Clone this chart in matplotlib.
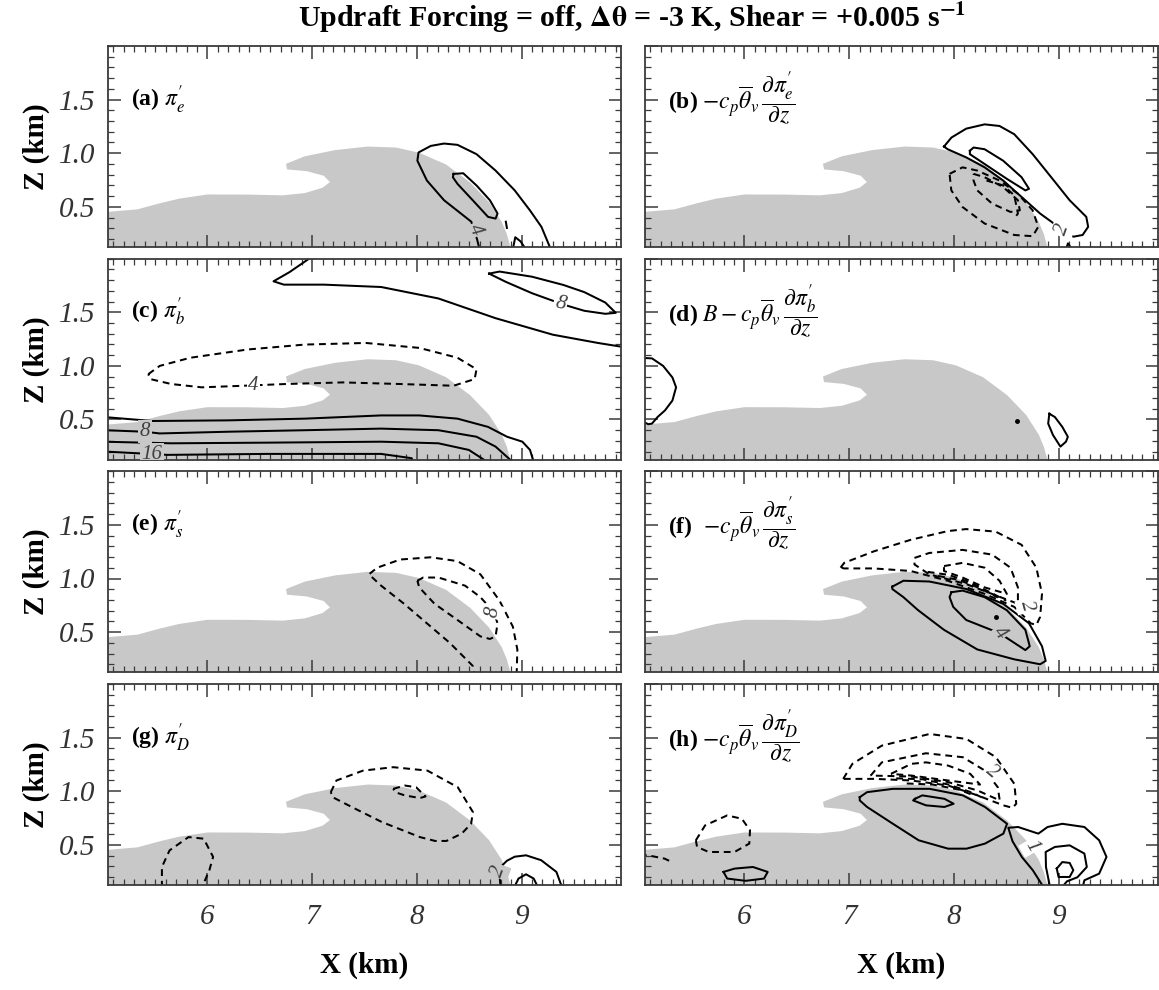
import matplotlib
matplotlib.use("Agg")
import matplotlib.pyplot as plt
from matplotlib.path import Path
from matplotlib.ticker import MultipleLocator

plt.rcParams['font.family'] = ['Liberation Serif', 'DejaVu Serif']
plt.rcParams['mathtext.fontset'] = 'stix'

XLIM = (5.05, 9.95)
ZLIM = (0.125, 2.0)

# cold pool outline, x and z in km
pool_x = [5.0, 5.0, 5.33, 5.55, 5.73, 6.0, 6.38, 6.72, 6.93, 7.10, 7.17, 7.11, 6.95, 6.76,
          6.75, 6.93, 7.22, 7.53, 7.80, 8.02, 8.28, 8.51, 8.69, 8.81, 8.86, 8.90]
pool_z = [0.10, 0.449, 0.476, 0.534, 0.576, 0.615, 0.614, 0.607, 0.628, 0.678, 0.731, 0.790, 0.832,
          0.849, 0.901, 0.971, 1.029, 1.062, 1.053, 1.005, 0.894, 0.726, 0.543, 0.361, 0.245, 0.10]

# (a) pi'_e
a_solid = [
    [(8.60, 0.10), (8.575, 0.197), (8.52, 0.361), (8.26, 0.561), (8.096, 0.745), (8.005, 0.930),
     (8.016, 1.007), (8.133, 1.068), (8.26, 1.090), (8.388, 1.078), (8.57, 0.991), (8.752, 0.838),
     (8.935, 0.653), (9.08, 0.467), (9.19, 0.313), (9.281, 0.10)],
    [(8.351, 0.807), (8.443, 0.813), (8.57, 0.699), (8.698, 0.561), (8.771, 0.437), (8.752, 0.390),
     (8.68, 0.406), (8.534, 0.561), (8.388, 0.714), (8.344, 0.776), (8.351, 0.807)],
    [(8.85, 0.361), (8.86, 0.303)],
    [(8.916, 0.10), (8.94, 0.216), (8.99, 0.178), (9.044, 0.10)],
]
a_dashed = []
a_labels = [(8.555, 0.284, "4", -65)]

# (b) vertical gradient of pi'_e
b_solid = [
    [(7.906, 1.062), (7.977, 1.146), (8.118, 1.229), (8.294, 1.269), (8.436, 1.254), (8.577, 1.177),
     (8.753, 0.991), (8.93, 0.776), (9.106, 0.561), (9.265, 0.406), (9.283, 0.313), (9.23, 0.237),
     (9.142, 0.221), (9.04, 0.284), (8.824, 0.437), (8.647, 0.592), (8.471, 0.745), (8.294, 0.868),
     (8.118, 0.961), (7.941, 1.037), (7.906, 1.062)],
    [(8.153, 1.022), (8.188, 1.053), (8.294, 1.037), (8.471, 0.930), (8.647, 0.776), (8.718, 0.668),
     (8.683, 0.653), (8.506, 0.761), (8.294, 0.899), (8.153, 0.991), (8.153, 1.022)],
    [(9.07, 0.10), (9.09, 0.159), (9.13, 0.10)],
]
b_dashed = [
    [(7.959, 0.807), (8.083, 0.868), (8.224, 0.838), (8.436, 0.745), (8.612, 0.622), (8.753, 0.467),
     (8.806, 0.313), (8.753, 0.226), (8.577, 0.237), (8.294, 0.344), (8.083, 0.498), (7.976, 0.653),
     (7.959, 0.807)],
    [(8.188, 0.807), (8.294, 0.776), (8.471, 0.684), (8.612, 0.561), (8.63, 0.467), (8.541, 0.452),
     (8.365, 0.530), (8.224, 0.653), (8.188, 0.745), (8.188, 0.807)],
    [(8.312, 0.745), (8.471, 0.699), (8.577, 0.607), (8.612, 0.437), (8.577, 0.390)],
]
b_labels = [(9.04, 0.284, "2", 70)]

# (c) pi'_b
c_solid = [
    [(7.0, 2.02), (6.784, 1.875), (6.631, 1.789), (6.73, 1.758), (7.112, 1.758), (7.659, 1.736),
     (8.206, 1.629), (8.752, 1.445), (9.299, 1.291), (9.73, 1.214), (9.96, 1.178)],
    [(8.69, 1.861), (8.79, 1.880), (9.1, 1.832), (9.4, 1.755), (9.6, 1.688), (9.8, 1.591), (9.9, 1.495),
     (9.8, 1.486), (9.6, 1.514), (9.4, 1.572), (9.1, 1.678), (8.85, 1.784), (8.69, 1.861)],
    [(5.0, 0.524), (5.471, 0.486), (6.2, 0.492), (6.93, 0.508), (7.659, 0.538), (8.023, 0.538),
     (8.388, 0.508), (8.68, 0.431), (8.862, 0.339), (9.008, 0.293), (9.081, 0.216), (9.117, 0.10)],
    [(5.0, 0.401), (5.4, 0.386), (5.544, 0.370), (6.2, 0.386), (6.93, 0.400), (7.659, 0.415),
     (8.206, 0.400), (8.57, 0.339), (8.752, 0.247), (8.92, 0.10)],
    [(5.0, 0.293), (5.654, 0.278), (6.565, 0.284), (7.659, 0.293), (8.206, 0.278), (8.497, 0.216),
     (8.68, 0.10)],
    [(5.0, 0.202), (5.47, 0.178), (5.617, 0.170), (6.565, 0.179), (7.659, 0.179), (7.95, 0.139),
     (7.97, 0.10)],
]
c_dashed = [
    [(5.435, 0.923), (5.544, 1.000), (5.836, 1.076), (6.383, 1.153), (6.93, 1.199), (7.513, 1.214),
     (8.023, 1.168), (8.388, 1.076), (8.57, 0.969), (8.552, 0.877), (8.351, 0.815), (7.841, 0.831),
     (7.294, 0.846), (6.747, 0.831), (6.346, 0.815), (5.945, 0.800), (5.654, 0.831), (5.454, 0.877),
     (5.435, 0.923)],
]
c_labels = [(9.37, 1.578, "8", -14), (6.44, 0.818, "4", 0), (5.40, 0.389, "8", 0),
            (5.47, 0.173, "16", 0)]

# (d) B minus vertical gradient of pi'_b
d_solid = [
    [(5.0, 1.076), (5.117, 1.070), (5.223, 1.000), (5.312, 0.892), (5.347, 0.800), (5.312, 0.677),
     (5.241, 0.585), (5.17, 0.523), (5.117, 0.462), (5.082, 0.456), (5.0, 0.492)],
    [(8.912, 0.554), (8.965, 0.523), (9.036, 0.431), (9.089, 0.339), (9.071, 0.293), (9.018, 0.247),
     (8.947, 0.355), (8.901, 0.462), (8.912, 0.554)],
]
d_dashed = []
d_labels = []
d_dots = [(8.605, 0.487)]

# (e) pi'_s
e_solid = []
e_dashed = [
    [(8.953, 0.10), (8.96, 0.338), (8.917, 0.551), (8.789, 0.795), (8.607, 1.039), (8.388, 1.162),
     (8.133, 1.198), (7.841, 1.177), (7.622, 1.101), (7.542, 1.039), (7.659, 0.933), (7.878, 0.764),
     (8.096, 0.582), (8.315, 0.399), (8.534, 0.185), (8.552, 0.10)],
    [(8.005, 0.979), (8.06, 1.009), (8.206, 1.009), (8.461, 0.933), (8.607, 0.826), (8.734, 0.688),
     (8.771, 0.582), (8.752, 0.460), (8.698, 0.436), (8.607, 0.460), (8.388, 0.613), (8.169, 0.764),
     (8.023, 0.917), (8.005, 0.979)],
]
e_labels = [(8.73, 0.688, "8", 80)]

# (f) vertical gradient of pi'_s
f_solid = [
    [(7.412, 0.924), (7.518, 0.979), (7.765, 0.972), (8.118, 0.902), (8.471, 0.764), (8.718, 0.582),
     (8.842, 0.368), (8.877, 0.231), (8.824, 0.200), (8.577, 0.246), (8.224, 0.338), (7.906, 0.521),
     (7.659, 0.704), (7.518, 0.826), (7.412, 0.902), (7.412, 0.924)],
    [(7.977, 0.872), (8.083, 0.887), (8.294, 0.826), (8.506, 0.704), (8.683, 0.521), (8.725, 0.368),
     (8.683, 0.332), (8.436, 0.490), (8.118, 0.613), (7.994, 0.735), (7.959, 0.826), (7.977, 0.872)],
]
f_dashed = [
    [(6.918, 1.101), (6.953, 1.146), (7.235, 1.253), (7.588, 1.361), (7.941, 1.442), (8.118, 1.461),
     (8.4, 1.437), (8.647, 1.314), (8.788, 1.101), (8.842, 0.857), (8.824, 0.642), (8.788, 0.566),
     (8.735, 0.582), (8.577, 0.735), (8.294, 0.857), (7.941, 0.979), (7.588, 1.070), (7.235, 1.094),
     (6.953, 1.094), (6.918, 1.101)],
    [(7.624, 1.192), (7.765, 1.238), (8.083, 1.267), (8.365, 1.223), (8.541, 1.101), (8.612, 0.917),
     (8.612, 0.764), (8.118, 0.948), (7.765, 1.039), (7.624, 1.131), (7.624, 1.192)],
    [(7.906, 1.116), (8.083, 1.146), (8.294, 1.101), (8.436, 0.979), (8.506, 0.857), (8.294, 0.917),
     (8.083, 1.009), (7.906, 1.070), (7.906, 1.116)],
    [(7.75, 1.062), (7.95, 1.034), (8.15, 0.966), (8.35, 0.870), (8.5, 0.793)],
    [(7.85, 1.024), (8.05, 0.986), (8.25, 0.909), (8.42, 0.822)],
]
f_labels = [(8.44, 0.495, "4", -50), (8.70, 0.745, "2", -75)]
f_dots = [(8.40, 0.642)]

# (g) pi'_D
g_solid = [
    [(8.80, 0.10), (8.79, 0.216), (8.80, 0.293), (8.86, 0.351), (8.935, 0.389), (9.043, 0.402),
     (9.188, 0.356), (9.333, 0.247), (9.388, 0.10)],
    [(8.928, 0.10), (8.971, 0.185), (9.043, 0.225), (9.116, 0.185), (9.159, 0.10)],
]
g_dashed = [
    [(7.178, 0.991), (7.232, 1.100), (7.486, 1.192), (7.775, 1.224), (8.101, 1.192), (8.391, 1.037),
     (8.536, 0.805), (8.518, 0.696), (8.428, 0.604), (8.283, 0.536), (8.174, 0.536), (8.029, 0.572),
     (7.667, 0.712), (7.377, 0.853), (7.196, 0.944), (7.178, 0.991)],
    [(7.775, 1.022), (7.884, 1.053), (7.993, 1.037), (8.083, 0.951), (8.029, 0.936), (7.884, 0.961),
     (7.793, 0.991), (7.775, 1.022)],
    [(5.565, 0.10), (5.565, 0.293), (5.638, 0.448), (5.819, 0.572), (5.964, 0.557), (6.054, 0.387),
     (6.018, 0.263), (5.946, 0.10)],
]
g_labels = [(8.78, 0.255, "2", 70)]

# (h) vertical gradient of pi'_D
h_solid = [
    [(7.101, 0.944), (7.171, 0.991), (7.418, 1.022), (7.769, 1.022), (8.086, 0.961), (8.297, 0.853),
     (8.508, 0.696), (8.473, 0.604), (8.297, 0.511), (8.121, 0.464), (7.945, 0.464), (7.664, 0.542),
     (7.418, 0.696), (7.171, 0.853), (7.101, 0.914), (7.101, 0.944)],
    [(8.86, 0.10), (8.754, 0.263), (8.649, 0.387), (8.56, 0.534), (8.52, 0.659), (8.614, 0.666),
     (8.807, 0.604), (8.895, 0.666), (9.036, 0.696), (9.247, 0.666), (9.388, 0.542), (9.458, 0.387),
     (9.388, 0.231), (9.247, 0.169), (9.229, 0.10)],
    [(7.629, 0.929), (7.699, 0.961), (7.91, 0.929), (7.998, 0.883), (7.91, 0.853), (7.734, 0.868),
     (7.611, 0.914), (7.629, 0.929)],
    [(8.92, 0.10), (8.88, 0.293), (8.877, 0.433), (8.965, 0.480), (9.106, 0.495), (9.247, 0.418),
     (9.27, 0.293), (9.18, 0.197), (9.08, 0.159), (9.03, 0.10)],
    [(8.983, 0.278), (9.036, 0.339), (9.106, 0.331), (9.141, 0.263), (9.106, 0.200), (9.0, 0.200),
     (8.983, 0.278)],
    [(5.8, 0.247), (5.905, 0.278), (6.081, 0.293), (6.222, 0.247), (6.187, 0.185), (6.011, 0.164),
     (5.835, 0.185), (5.8, 0.247)],
]
h_dashed = [
    [(5.536, 0.542), (5.624, 0.681), (5.835, 0.774), (5.975, 0.743), (6.053, 0.635), (6.046, 0.511),
     (5.905, 0.433), (5.659, 0.433), (5.547, 0.480), (5.536, 0.542)],
    [(5.0, 0.409), (5.078, 0.402), (5.237, 0.371), (5.307, 0.339)],
    [(6.943, 1.115), (7.031, 1.255), (7.312, 1.425), (7.769, 1.534), (8.121, 1.487), (8.402, 1.317),
     (8.578, 1.068), (8.596, 0.883), (8.56, 0.845), (8.473, 0.868), (8.226, 0.961), (7.945, 1.053),
     (7.593, 1.100), (7.242, 1.115), (6.943, 1.115)],
    [(7.206, 1.146), (7.312, 1.269), (7.734, 1.354), (8.086, 1.317), (8.297, 1.192), (8.42, 1.037),
     (8.438, 0.914), (8.226, 1.007), (7.945, 1.085), (7.593, 1.137), (7.206, 1.146)],
    [(7.4, 1.162), (7.593, 1.255), (7.734, 1.269), (7.945, 1.239), (8.156, 1.162), (8.25, 1.062),
     (7.945, 1.100), (7.593, 1.146), (7.4, 1.162)],
    [(7.45, 1.120), (7.7, 1.111), (7.95, 1.062), (8.15, 0.995), (8.3, 0.928)],
    [(7.55, 1.072), (7.8, 1.062), (8.05, 1.014), (8.2, 0.957)],
]
h_labels = [(8.36, 1.178, "2", -40), (8.74, 0.486, "1", -60)]

panel_titles = [
    r"(a) $\pi^{\prime}_{e}$",
    r"(b) $-c_p\overline{\theta}_v\,\dfrac{\partial\pi^{\prime}_{e}}{\partial z}$",
    r"(c) $\pi^{\prime}_{b}$",
    r"(d) $B-c_p\overline{\theta}_v\,\dfrac{\partial\pi^{\prime}_{b}}{\partial z}$",
    r"(e) $\pi^{\prime}_{s}$",
    r"(f)  $-c_p\overline{\theta}_v\,\dfrac{\partial\pi^{\prime}_{s}}{\partial z}$",
    r"(g) $\pi^{\prime}_{D}$",
    r"(h) $-c_p\overline{\theta}_v\,\dfrac{\partial\pi^{\prime}_{D}}{\partial z}$",
]
panels = [
    (a_solid, a_dashed, a_labels, []),
    (b_solid, b_dashed, b_labels, []),
    (c_solid, c_dashed, c_labels, []),
    (d_solid, d_dashed, d_labels, d_dots),
    (e_solid, e_dashed, e_labels, []),
    (f_solid, f_dashed, f_labels, f_dots),
    (g_solid, g_dashed, g_labels, []),
    (h_solid, h_dashed, h_labels, []),
]

W, H = 1159, 990
fig = plt.figure(figsize=(W / 100, H / 100), dpi=100)

col_left = [108, 645]
col_width = 513
row_top = [46, 258.7, 471.3, 684]
row_height = 201

pool_path = Path(list(zip(pool_x, pool_z)))
GRAY = '#c8c8c8'
EDGE = '#3a3a3a'

for i, (solid, dashed, labels, dots) in enumerate(panels):
    row, col = divmod(i, 2)
    rect = [col_left[col] / W, 1 - (row_top[row] + row_height) / H, col_width / W, row_height / H]
    ax = fig.add_axes(rect)
    ax.fill(pool_x, pool_z, color=GRAY, lw=0, zorder=1)
    for pts in solid:
        xs, zs = zip(*pts)
        ax.plot(xs, zs, color='k', lw=1.45, solid_joinstyle='round', zorder=2)
    for pts in dashed:
        xs, zs = zip(*pts)
        ax.plot(xs, zs, color='k', lw=1.45, ls=(0, (3.4, 2.4)), zorder=2)
    for x, z in dots:
        ax.plot(x, z, 'o', color='k', ms=2.5, zorder=2)
    for x, z, s, rot in labels:
        bg = GRAY if pool_path.contains_point((x, z)) else 'white'
        ax.text(x, z, s, rotation=rot, ha='center', va='center', fontsize=15, style='italic',
                color='#404040', zorder=3, clip_on=True,
                bbox=dict(boxstyle='square,pad=0.08', fc=bg, ec='none'))

    ax.text(5.27, 1.50, panel_titles[i], fontsize=17, fontweight='bold', ha='left', va='center',
            zorder=4)

    ax.set_xlim(*XLIM)
    ax.set_ylim(*ZLIM)
    ax.xaxis.set_major_locator(MultipleLocator(1))
    ax.xaxis.set_minor_locator(MultipleLocator(0.1))
    ax.yaxis.set_major_locator(MultipleLocator(0.5))
    ax.yaxis.set_minor_locator(MultipleLocator(0.1))
    ax.tick_params(which='both', direction='in', top=True, right=True, color=EDGE)
    ax.tick_params(which='major', length=9, width=1.1)
    ax.tick_params(which='minor', length=4.5, width=0.9)
    ax.tick_params(axis='y', labelsize=21, pad=9)
    ax.tick_params(axis='x', labelsize=21, pad=14)
    for sp in ax.spines.values():
        sp.set_color(EDGE)
        sp.set_linewidth(1.3)
    if col == 1:
        ax.tick_params(axis='y', labelleft=False)
    else:
        ax.set_yticks([0.5, 1.0, 1.5])
        ax.set_yticklabels(['0.5', '1.0', '1.5'])
    if row < 3:
        ax.tick_params(axis='x', labelbottom=False)
    for lab in ax.get_xticklabels() + ax.get_yticklabels():
        lab.set_fontstyle('italic')
        lab.set_color('#333333')

for row in range(4):
    zc = 1 - (row_top[row] + row_height / 2) / H
    fig.text(36 / W, zc, "Z (km)", rotation=90, ha='center', va='center', fontsize=21,
             fontweight='bold')
for col in range(2):
    fig.text((col_left[col] + col_width / 2) / W, 1 - 965 / H, "X (km)", ha='center',
             va='center', fontsize=21, fontweight='bold')

fig.text(632 / W, 1 - 18 / H,
         r"Updraft Forcing = off, $\mathbf{\Delta\theta}$ = -3 K, Shear = +0.005 s$^{\mathbf{-1}}$",
         ha='center', va='center', fontsize=21.5, fontweight='bold')

fig.savefig('out.png', dpi=100)
